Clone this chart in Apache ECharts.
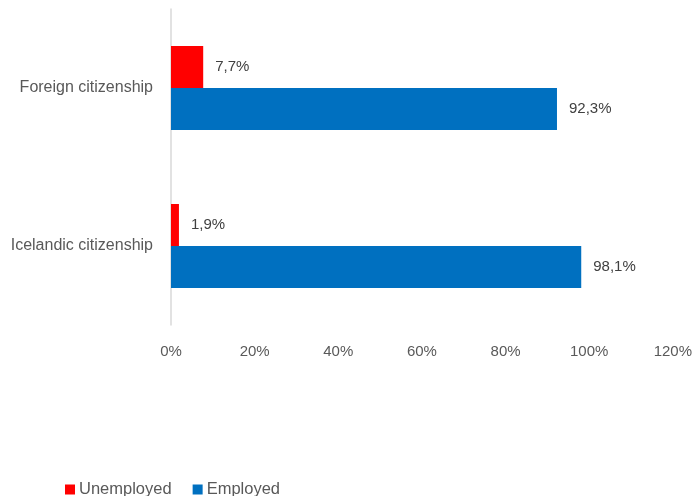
<!DOCTYPE html>
<html><head><meta charset="utf-8">
<script src="https://cdn.jsdelivr.net/npm/echarts@6/dist/echarts.min.js"></script>
<style>html,body{margin:0;padding:0;background:#fff}#c{width:695px;height:496px}</style>
</head><body><div id="c"></div>
<script>
const categories = ['Icelandic citizenship', 'Foreign citizenship'];
const unemployed = [1.9, 7.7];
const employed = [98.1, 92.3];
const xTicks = [0, 20, 40, 60, 80, 100, 120];

const chart = echarts.init(document.getElementById('c'));
const fmt = v => String(v).replace('.', ',') + '%';
const font = 'Liberation Sans';
chart.setOption({
  animation: false,
  grid: {left: 171, right: 21, top: 9, bottom: 171, containLabel: false},
  legend: {
    data: ['Unemployed', 'Employed'], left: 65, top: 481, padding: 0,
    itemWidth: 10, itemHeight: 10, itemGap: 21, icon: 'rect',
    textStyle: {color: '#595959', fontSize: 16.5, fontFamily: font, padding: [0,0,0,-1]}
  },
  xAxis: {
    type: 'value', min: xTicks[0], max: xTicks[xTicks.length-1], interval: 20,
    axisLabel: {formatter: v => v + '%', color: '#595959', fontSize: 15, fontFamily: font, margin: 19},
    splitLine: {show: false}, axisLine: {show: false}, axisTick: {show: false}
  },
  yAxis: {
    type: 'category', data: categories,
    axisLine: {show: true, lineStyle: {color: '#d9d9d9', width: 1.5}},
    axisTick: {show: false},
    axisLabel: {color: '#595959', fontSize: 16, fontFamily: font, margin: 18}
  },
  series: [
    {name: 'Unemployed', type: 'bar', data: unemployed, barWidth: 42, barGap: '0%',
     itemStyle: {color: '#ff0000'},
     label: {show: true, position: 'right', distance: 12, formatter: p => fmt(p.value), color: '#404040', fontSize: 15, fontFamily: font}},
    {name: 'Employed', type: 'bar', data: employed, barWidth: 42, barGap: '0%',
     itemStyle: {color: '#0070c0'},
     label: {show: true, position: 'right', distance: 12, formatter: p => fmt(p.value), color: '#404040', fontSize: 15, fontFamily: font}}
  ]
});
</script></body></html>
